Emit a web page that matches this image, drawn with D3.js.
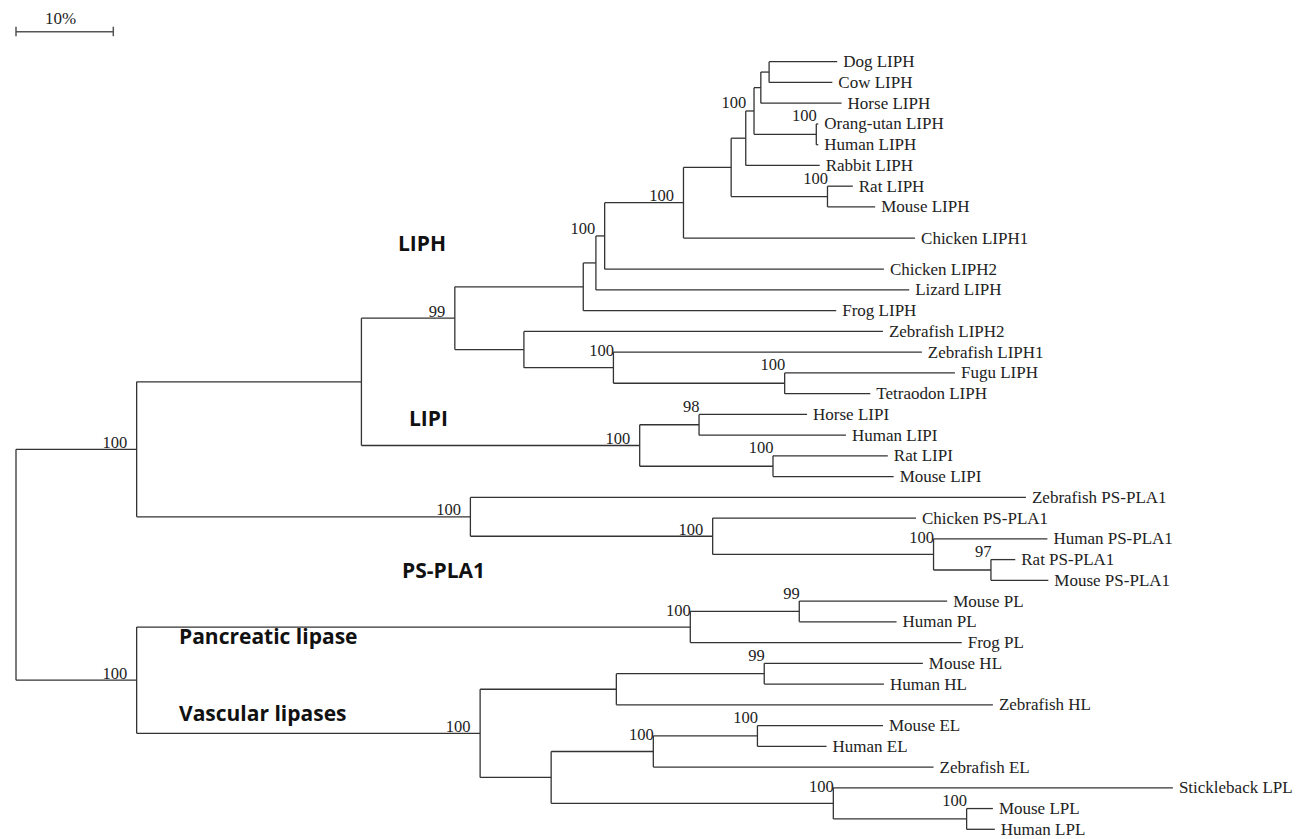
<!DOCTYPE html>
<html>
<head>
<meta charset="utf-8">
<script src="https://cdn.jsdelivr.net/npm/d3@7"></script>
<style>
  body { margin: 0; background: #fff; }
  svg { display: block; }
</style>
</head>
<body>
<script>
// internal nodes: [id, parent, branch length, bootstrap]
var clades = [
  ["root", "", 0, null],
  ["top", "root", 0.124, 100],
  ["bottom", "root", 0.124, 100],
  ["liphLipi", "top", 0.231, null],
  ["psPla1", "top", 0.343, 100],
  ["liph", "liphLipi", 0.096, 99],
  ["lipi", "liphLipi", 0.286, 100],
  ["tetrapod", "liph", 0.132, null],
  ["fish", "liph", 0.071, null],
  ["c1", "tetrapod", 0.013, null],
  ["amniote", "c1", 0.009, 100],
  ["b2", "amniote", 0.081, 100],
  ["mammal", "b2", 0.049, null],
  ["e", "mammal", 0.015, 100],
  ["f", "e", 0.0085, null],
  ["g", "f", 0.007, null],
  ["dogCow", "g", 0.0085, null],
  ["primate", "f", 0.064, 100],
  ["rodentH", "mammal", 0.099, 100],
  ["zfFugu", "fish", 0.092, 100],
  ["puffer", "zfFugu", 0.176, 100],
  ["lipiHH", "lipi", 0.061, 98],
  ["lipiRod", "lipi", 0.137, 100],
  ["psA", "psPla1", 0.249, 100],
  ["psM", "psA", 0.227, 100],
  ["psRod", "psM", 0.059, 97],
  ["pl", "bottom", 0.569, 100],
  ["plMam", "pl", 0.112, 99],
  ["vasc", "bottom", 0.353, 100],
  ["hl", "vasc", 0.140, null],
  ["hlMam", "hl", 0.152, 99],
  ["elLpl", "vasc", 0.073, null],
  ["el", "elLpl", 0.105, 100],
  ["elMam", "el", 0.107, 100],
  ["lpl", "elLpl", 0.290, 100],
  ["lplMam", "lpl", 0.137, 100]
];

// leaves in display order: [name, parent, branch length]
var leaves = [
  ["Dog LIPH", "dogCow", 0.070],
  ["Cow LIPH", "dogCow", 0.065],
  ["Horse LIPH", "g", 0.083],
  ["Orang-utan LIPH", "primate", 0.002],
  ["Human LIPH", "primate", 0.002],
  ["Rabbit LIPH", "e", 0.076],
  ["Rat LIPH", "rodentH", 0.026],
  ["Mouse LIPH", "rodentH", 0.049],
  ["Chicken LIPH1", "b2", 0.238],
  ["Chicken LIPH2", "amniote", 0.287],
  ["Lizard LIPH", "c1", 0.322],
  ["Frog LIPH", "tetrapod", 0.260],
  ["Zebrafish LIPH2", "fish", 0.369],
  ["Zebrafish LIPH1", "zfFugu", 0.317],
  ["Fugu LIPH", "puffer", 0.175],
  ["Tetraodon LIPH", "puffer", 0.088],
  ["Horse LIPI", "lipiHH", 0.111],
  ["Human LIPI", "lipiHH", 0.151],
  ["Rat LIPI", "lipiRod", 0.118],
  ["Mouse LIPI", "lipiRod", 0.124],
  ["Zebrafish PS-PLA1", "psPla1", 0.571],
  ["Chicken PS-PLA1", "psA", 0.209],
  ["Human PS-PLA1", "psM", 0.117],
  ["Rat PS-PLA1", "psRod", 0.025],
  ["Mouse PS-PLA1", "psRod", 0.059],
  ["Mouse PL", "plMam", 0.152],
  ["Human PL", "plMam", 0.100],
  ["Frog PL", "pl", 0.279],
  ["Mouse HL", "hlMam", 0.163],
  ["Human HL", "hlMam", 0.123],
  ["Zebrafish HL", "hl", 0.387],
  ["Mouse EL", "elMam", 0.129],
  ["Human EL", "elMam", 0.071],
  ["Zebrafish EL", "el", 0.288],
  ["Stickleback LPL", "lpl", 0.349],
  ["Mouse LPL", "lplMam", 0.027],
  ["Human LPL", "lplMam", 0.029]
];

var groupNames = ["LIPH", "LIPI", "PS-PLA1", "Pancreatic lipase", "Vascular lipases"];
var scaleBarValue = 0.10;
var scaleBarLabel = "10%";

var width = 1299;
var height = 839;

// layout bits
var groupPos = [[398, 251], [409, 426], [402, 578], [179, 644], [179, 721]];
var extraGap = { "Chicken LIPH1": 0.5 };
var supportAt = {
  e: "top", primate: "top", rodentH: "top", puffer: "top", lipiHH: "top",
  lipiRod: "top", psRod: "top", plMam: "top", hlMam: "top", elMam: "top", lplMam: "top",
  zfFugu: "mid", psM: "mid", pl: "mid", el: "mid", lpl: "mid"
};

var rows = clades.map(function (c) {
  return { id: c[0], parentId: c[1] || null, len: c[2], bs: c[3], leaf: false };
}).concat(leaves.map(function (l, i) {
  return { id: l[0], parentId: l[1], len: l[2], bs: null, leaf: true, order: i };
}));

var root = d3.stratify()
  .id(function (d) { return d.id; })
  .parentId(function (d) { return d.parentId; })(rows);

// children follow the leaf order
root.eachAfter(function (n) {
  n.minOrder = n.children ? d3.min(n.children, function (c) { return c.minOrder; }) : n.data.order;
});
root.sort(function (a, b) { return a.minOrder - b.minOrder; });

var x = d3.scaleLinear().domain([0, 1]).range([16, 16 + 973]);

root.eachBefore(function (n) {
  n.dist = n.parent ? n.parent.dist + n.data.len : 0;
});

var row = -1;
root.leaves().forEach(function (n) {
  var g = extraGap[n.id] || 0;
  row += 1 + g;
  n.row = row;
  row += g;
});

var y = d3.scaleLinear().domain([0, row]).range([61.7, 829.3]);

root.eachAfter(function (n) {
  n.px = x(n.dist);
  if (n.children) {
    n.py = (n.children[0].py + n.children[n.children.length - 1].py) / 2;
  } else {
    n.py = y(n.row);
  }
});

var svg = d3.select("body").append("svg")
  .attr("width", width)
  .attr("height", height);

var lineColor = "#333";

// horizontal branches
svg.append("g").selectAll("line")
  .data(root.descendants().filter(function (n) { return n.parent; }))
  .join("line")
  .attr("x1", function (n) { return n.parent.px; })
  .attr("x2", function (n) { return n.px; })
  .attr("y1", function (n) { return n.py; })
  .attr("y2", function (n) { return n.py; })
  .attr("stroke", lineColor)
  .attr("stroke-width", 1.3);

// vertical connectors
svg.append("g").selectAll("line")
  .data(root.descendants().filter(function (n) { return n.children; }))
  .join("line")
  .attr("x1", function (n) { return n.px; })
  .attr("x2", function (n) { return n.px; })
  .attr("y1", function (n) { return n.children[0].py; })
  .attr("y2", function (n) { return n.children[n.children.length - 1].py; })
  .attr("stroke", lineColor)
  .attr("stroke-width", 1.3);

// leaf names
svg.append("g").selectAll("text")
  .data(root.leaves())
  .join("text")
  .attr("x", function (n) { return n.px + 6; })
  .attr("y", function (n) { return n.py + 5.5; })
  .attr("font-family", "'Liberation Serif', 'Times New Roman', serif")
  .attr("font-size", 17)
  .attr("fill", "#222")
  .text(function (n) { return n.id; });

// bootstrap values
svg.append("g").selectAll("text")
  .data(root.descendants().filter(function (n) { return n.data.bs != null; }))
  .join("text")
  .attr("text-anchor", "end")
  .attr("x", function (n) {
    return supportAt[n.id] ? n.px + 0.5 : n.px - 9.5;
  })
  .attr("y", function (n) {
    var pos = supportAt[n.id];
    if (pos == "top") return n.children[0].py - 2.5;
    if (pos == "mid") return n.children[0].py + 4.3;
    return n.py - 1.5;
  })
  .attr("font-family", "'Liberation Serif', 'Times New Roman', serif")
  .attr("font-size", 16.5)
  .attr("fill", "#222")
  .text(function (n) { return n.data.bs; });

// group names
svg.append("g").selectAll("text")
  .data(groupNames)
  .join("text")
  .attr("x", function (d, i) { return groupPos[i][0]; })
  .attr("y", function (d, i) { return groupPos[i][1]; })
  .attr("font-family", "'Open Sans', sans-serif")
  .attr("font-weight", "bold")
  .attr("font-size", 21)
  .attr("fill", "#111")
  .text(function (d) { return d; });

// scale bar
var bar = svg.append("g").attr("stroke", "#555").attr("stroke-width", 1.5);
var barY = 31.7;
bar.append("line")
  .attr("x1", x(0)).attr("x2", x(scaleBarValue))
  .attr("y1", barY).attr("y2", barY);
bar.selectAll("line.tick")
  .data([0, scaleBarValue])
  .join("line")
  .attr("class", "tick")
  .attr("x1", function (d) { return x(d); })
  .attr("x2", function (d) { return x(d); })
  .attr("y1", barY - 5).attr("y2", barY + 4.5);
svg.append("text")
  .attr("x", (x(0) + x(scaleBarValue)) / 2 - 4)
  .attr("y", 24)
  .attr("text-anchor", "middle")
  .attr("font-family", "'Liberation Serif', 'Times New Roman', serif")
  .attr("font-size", 17)
  .attr("fill", "#222")
  .text(scaleBarLabel);
</script>
</body>
</html>
